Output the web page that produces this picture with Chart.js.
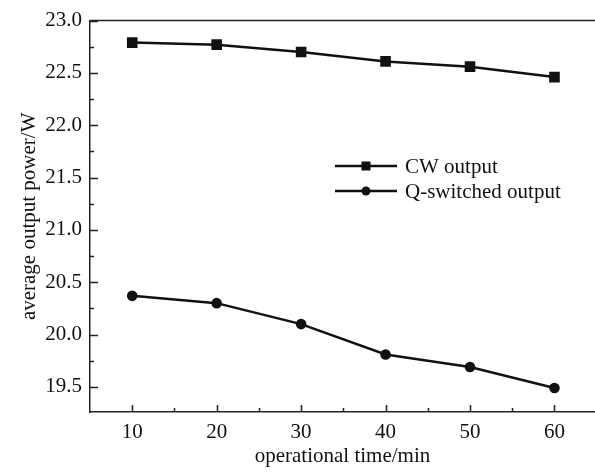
<!DOCTYPE html>
<html>
<head>
<meta charset="utf-8">
<script src="https://cdn.jsdelivr.net/npm/chart.js@4/dist/chart.umd.min.js"></script>
<style>
  html, body { margin: 0; padding: 0; background: #fff; }
  #wrap { width: 595px; height: 476px; }
</style>
</head>
<body>
<div id="wrap"><canvas id="chart" width="595" height="476"></canvas></div>
<script>
"use strict";

// operational time (min)
let times = [10, 20, 30, 40, 50, 60];
// average output power (W)
let cwOutput = [22.79, 22.77, 22.70, 22.61, 22.56, 22.46];
let qSwitchedOutput = [20.37, 20.30, 20.10, 19.81, 19.69, 19.49];

let xMajorTicks = [10, 20, 30, 40, 50, 60];
let xMinorTicks = [15, 25, 35, 45, 55];
let yMajorTicks = [19.5, 20.0, 20.5, 21.0, 21.5, 22.0, 22.5, 23.0];
let yMinorTicks = [19.75, 20.25, 20.75, 21.25, 21.75, 22.25, 22.75];

let seriesNames = ["CW output", "Q-switched output"];

const ink = "#111";
const fontFamily = "'Liberation Serif', 'Times New Roman', serif";
const fontSize = 21;

function toPoints(xs, ys) {
  let pts = [];
  for (let i = 0; i < xs.length; i++) {
    pts.push({ x: xs[i], y: ys[i] });
  }
  return pts;
}

// inward tick marks + top frame line + legend
const frame = {
  id: "frame",
  afterDraw(chart) {
    let ctx = chart.ctx;
    let area = chart.chartArea;
    let x = chart.scales.x;
    let y = chart.scales.y;
    ctx.save();
    ctx.strokeStyle = "#222";
    ctx.lineWidth = 1.5;
    ctx.beginPath();
    ctx.moveTo(area.left, area.top);
    ctx.lineTo(area.right, area.top);
    for (let v of xMajorTicks) {
      let px = Math.round(x.getPixelForValue(v)) + 0.5;
      ctx.moveTo(px, area.bottom);
      ctx.lineTo(px, area.bottom - 7);
    }
    for (let v of xMinorTicks) {
      let px = Math.round(x.getPixelForValue(v)) + 0.5;
      ctx.moveTo(px, area.bottom);
      ctx.lineTo(px, area.bottom - 4);
    }
    for (let v of yMajorTicks) {
      let py = Math.round(y.getPixelForValue(v)) + 0.5;
      ctx.moveTo(area.left, py);
      ctx.lineTo(area.left + 8, py);
    }
    for (let v of yMinorTicks) {
      let py = Math.round(y.getPixelForValue(v)) + 0.5;
      ctx.moveTo(area.left, py);
      ctx.lineTo(area.left + 4, py);
    }
    ctx.stroke();

    let lx = 335, tx = 405;
    let rows = [166, 191];
    ctx.strokeStyle = ink;
    ctx.fillStyle = ink;
    ctx.lineWidth = 2.5;
    ctx.font = fontSize + "px " + fontFamily;
    ctx.textBaseline = "middle";
    for (let i = 0; i < seriesNames.length; i++) {
      let ly = rows[i];
      ctx.beginPath();
      ctx.moveTo(lx, ly);
      ctx.lineTo(lx + 62, ly);
      ctx.stroke();
      ctx.beginPath();
      if (i === 0) {
        ctx.rect(lx + 31 - 4.5, ly - 4.5, 9, 9);
      } else {
        ctx.arc(lx + 31, ly, 4.5, 0, Math.PI * 2);
      }
      ctx.fill();
      ctx.fillText(seriesNames[i], tx, ly + 1);
    }
    ctx.restore();
  },
};

function renderChart() {
  let ctx = document.getElementById("chart");
  new Chart(ctx, {
    type: "line",
    data: {
      datasets: [
        {
          label: seriesNames[0],
          data: toPoints(times, cwOutput),
          borderColor: ink,
          backgroundColor: ink,
          borderWidth: 2.5,
          pointStyle: "rect",
          pointRadius: 7.5,
          pointBorderWidth: 0,
          tension: 0,
        },
        {
          label: seriesNames[1],
          data: toPoints(times, qSwitchedOutput),
          borderColor: ink,
          backgroundColor: ink,
          borderWidth: 2.5,
          pointStyle: "circle",
          pointRadius: 5.3,
          pointBorderWidth: 0,
          tension: 0,
        },
      ],
    },
    options: {
      responsive: false,
      animation: false,
      layout: { autoPadding: false, padding: { top: 16, right: 0, left: 0, bottom: 0 } },
      plugins: {
        legend: { display: false },
        tooltip: { enabled: false },
      },
      scales: {
        x: {
          type: "linear",
          position: "bottom",
          min: 5,
          max: 64.8,
          afterBuildTicks(scale) {
            scale.ticks = xMajorTicks.map((v) => ({ value: v }));
          },
          afterFit(scale) {
            scale.height = 64;
          },
          grid: { display: false, drawTicks: false },
          border: { display: true, color: "#222", width: 1.5 },
          ticks: {
            color: ink,
            padding: 8,
            maxRotation: 0,
            font: { family: fontFamily, size: fontSize },
          },
          title: {
            display: true,
            text: "operational time/min",
            color: ink,
            font: { family: fontFamily, size: fontSize },
            padding: { top: 0, bottom: 7 },
          },
        },
        y: {
          type: "linear",
          min: 19.26,
          max: 23.0,
          afterBuildTicks(scale) {
            scale.ticks = yMajorTicks.map((v) => ({ value: v }));
          },
          afterFit(scale) {
            scale.width = 90;
          },
          grid: { display: false, drawTicks: false },
          border: { display: true, color: "#222", width: 1.5 },
          ticks: {
            color: ink,
            padding: 8,
            font: { family: fontFamily, size: fontSize },
            callback: (v) => v.toFixed(1),
          },
          title: {
            display: true,
            text: "average output power/W",
            color: ink,
            font: { family: fontFamily, size: fontSize },
            padding: { top: 17, bottom: 0 },
          },
        },
      },
    },
    plugins: [frame],
  });
}

renderChart();
</script>
</body>
</html>
